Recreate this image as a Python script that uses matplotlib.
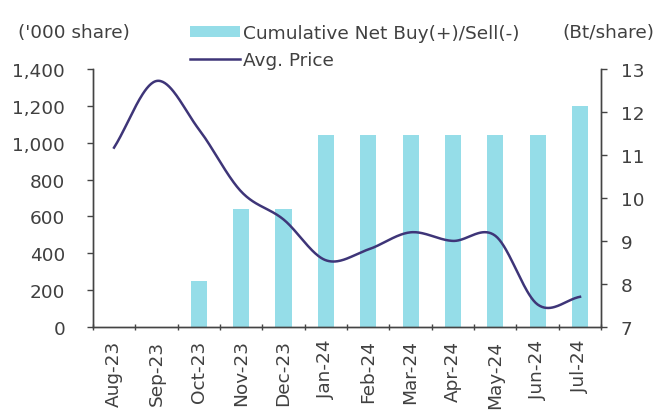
import numpy as np
import matplotlib
matplotlib.use("Agg")
import matplotlib.pyplot as plt

plt.rcParams['font.family'] = ['DejaVu Sans']

months = ["Aug-23", "Sep-23", "Oct-23", "Nov-23", "Dec-23", "Jan-24",
          "Feb-24", "Mar-24", "Apr-24", "May-24", "Jun-24", "Jul-24"]
net_buy = [0, 0, 250, 640, 640, 1040, 1040, 1040, 1040, 1040, 1040, 1200]
avg_price = [11.17, 12.72, 11.6, 10.15, 9.5, 8.55, 8.8, 9.2, 9.0, 9.12, 7.52, 7.7]

bar_color = "#95dde8"
line_color = "#3e3578"
text_color = "#404040"
spine_color = "#444444"
FS = 13.3


def catmull_rom(x, y, n=40):
    """Smooth curve through the points (Catmull-Rom spline)."""
    x = np.asarray(x, float)
    y = np.asarray(y, float)
    px = np.concatenate([[2 * x[0] - x[1]], x, [2 * x[-1] - x[-2]]])
    py = np.concatenate([[2 * y[0] - y[1]], y, [2 * y[-1] - y[-2]]])
    xs, ys = [], []
    t = np.linspace(0, 1, n, endpoint=False)
    for i in range(1, len(px) - 2):
        for arr, a in ((xs, px), (ys, py)):
            a0, a1, a2, a3 = a[i - 1], a[i], a[i + 1], a[i + 2]
            arr.extend(0.5 * ((2 * a1) + (-a0 + a2) * t
                              + (2 * a0 - 5 * a1 + 4 * a2 - a3) * t ** 2
                              + (-a0 + 3 * a1 - 3 * a2 + a3) * t ** 3))
    xs.append(x[-1])
    ys.append(y[-1])
    return np.array(xs), np.array(ys)


fig = plt.figure(figsize=(6.68, 4.14), dpi=100)
ax = fig.add_axes([0.139, 0.208, 0.761, 0.623])
ax2 = ax.twinx()

pos = np.arange(len(months))
ax.bar(pos, net_buy, width=0.38, color=bar_color, zorder=2,
       label="Cumulative Net Buy(+)/Sell(-)")
sx, sy = catmull_rom(pos, avg_price)
ax2.plot(sx, sy, color=line_color, lw=1.8, zorder=3, label="Avg. Price")

ax.set_xlim(-0.5, len(months) - 0.5)
ax.set_ylim(0, 1400)
ax.set_yticks(np.arange(0, 1401, 200))
ax.set_yticklabels([f"{v:,}" for v in range(0, 1401, 200)])
ax2.set_ylim(7, 13)
ax2.set_yticks(np.arange(7, 14, 1))

ax.set_xticks(pos)
ax.set_xticklabels(months, rotation=90)
ax.set_xticks(np.arange(-0.5, len(months), 1), minor=True)
ax.tick_params(axis="x", which="major", length=0, pad=9)
ax.tick_params(axis="x", which="minor", length=5, direction="inout",
               color=spine_color, width=1)

for a in (ax, ax2):
    a.spines["top"].set_visible(False)
    for s in ("left", "right", "bottom"):
        a.spines[s].set_color(spine_color)
        a.spines[s].set_linewidth(1.0)
    a.tick_params(axis="y", length=4, width=1, color=spine_color,
                  labelsize=FS, labelcolor=text_color)
ax.tick_params(axis="y", pad=16)
ax2.tick_params(axis="y", pad=10)
ax.tick_params(axis="x", labelsize=FS, labelcolor=text_color)
ax.set_zorder(ax2.get_zorder() - 1)
ax.patch.set_visible(True)
ax2.patch.set_visible(False)

fig.text(0.027, 0.92, "('000 share)", fontsize=FS, color=text_color,
         va="center", ha="left")
fig.text(0.98, 0.92, "(Bt/share)", fontsize=FS, color=text_color,
         va="center", ha="right")

handles = [ax.containers[0], ax2.get_lines()[0]]
fig.legend(handles, [h.get_label() for h in handles],
           loc="upper left", bbox_to_anchor=(0.284, 0.939), frameon=False,
           fontsize=FS, labelcolor=text_color, handlelength=2.7,
           handleheight=0.55, handletextpad=0.18, labelspacing=0.46,
           borderpad=0, borderaxespad=0)

fig.savefig("out.png", dpi=100, facecolor="white")
